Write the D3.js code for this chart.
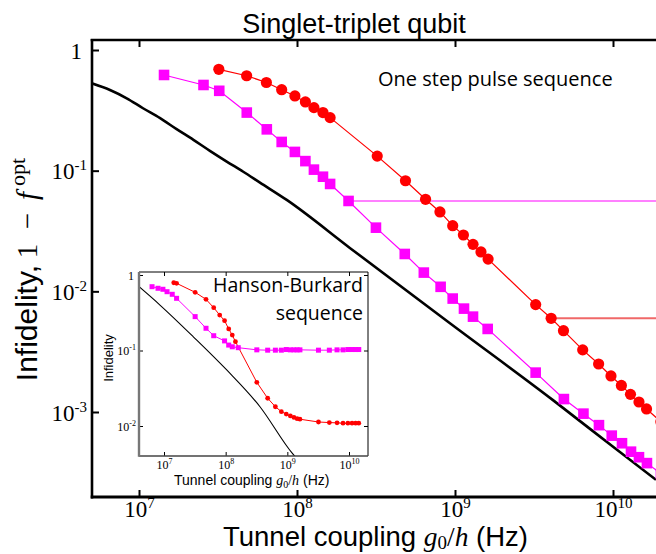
<!DOCTYPE html>
<html>
<head>
<meta charset="utf-8">
<script src="https://cdn.jsdelivr.net/npm/d3@7"></script>
<style>
body { margin: 0; background: #fff; }
svg { display: block; }
</style>
</head>
<body>
<div id="chart"></div>
<script>
// ---- main panel data ----
const xTickExp = [7, 8, 9, 10];
const yTickExp = [0, -1, -2, -3];

// bound (black curve)
const boundG = [5.02e6, 6.55e6, 8.36e6, 1.06e7, 1.36e7, 1.73e7, 2.21e7, 2.81e7, 3.59e7, 4.57e7, 5.83e7, 8.61e7, 2.16e8, 9.29e8, 4.15e9, 1.03e10, 1.87e10];
const boundV = [0.530, 0.466, 0.398, 0.329, 0.272, 0.221, 0.180, 0.146, 0.119, 0.098, 0.0796, 0.0572, 0.0229, 0.00544, 0.00126, 0.000500, 0.000274];

// red circles
const redG = [3.2e7, 4.8e7, 6.4e7, 8.0e7, 9.7e7, 1.13e8, 1.28e8, 1.46e8, 1.62e8, 3.22e8, 4.86e8, 6.51e8, 8.03e8, 9.67e8, 1.13e9, 1.30e9, 1.46e9, 1.62e9, 3.24e9, 4.06e9, 4.86e9, 6.43e9, 8.11e9, 9.71e9, 1.13e10, 1.29e10, 1.46e10, 1.63e10, 2.01e10];
const redV = [0.692, 0.612, 0.538, 0.469, 0.416, 0.371, 0.333, 0.303, 0.275, 0.132, 0.0825, 0.0579, 0.0455, 0.0350, 0.0293, 0.0245, 0.0212, 0.0185, 0.00776, 0.00598, 0.00472, 0.00327, 0.00250, 0.00199, 0.00166, 0.00140, 0.00121, 0.00106, 0.00083];

// magenta squares
const magG = [1.44e7, 2.56e7, 3.22e7, 4.81e7, 6.44e7, 8.0e7, 9.7e7, 1.13e8, 1.28e8, 1.46e8, 1.62e8, 2.12e8, 3.16e8, 4.81e8, 6.35e8, 8.11e8, 9.67e8, 1.14e9, 1.30e9, 1.61e9, 3.24e9, 4.89e9, 6.50e9, 8.15e9, 9.82e9, 1.14e10, 1.30e10, 1.46e10, 1.64e10, 2.01e10];
const magV = [0.621, 0.513, 0.459, 0.303, 0.220, 0.173, 0.143, 0.120, 0.102, 0.0891, 0.0776, 0.0561, 0.0337, 0.0204, 0.0143, 0.0109, 0.00871, 0.00719, 0.00617, 0.00488, 0.00212, 0.00128, 0.000969, 0.000778, 0.000637, 0.000551, 0.000469, 0.000422, 0.000377, 0.000307];

// flat levels (start g, level)
const floorG = [2.12e8, 4.06e9];
const floorV = [0.0561, 0.00598];

// ---- inset data ----
const insetXTickExp = [7, 8, 9, 10];
const insetYTickExp = [0, -1, -2];
const insetBoundG = [3.94e6, 8.6e6, 2.99e7, 1.04e8, 3.6e8, 1.19e9, 1.35e9];
const insetBoundV = [0.70, 0.40, 0.152, 0.0552, 0.018, 0.0044, 0.0039];
const insetRedG = [1.44e7, 1.6e7, 3.2e7, 4.8e7, 6.4e7, 8e7, 9.6e7, 1.12e8, 1.28e8, 1.44e8, 3.2e8, 4.8e8, 6.4e8, 8e8, 9.6e8, 1.12e9, 1.28e9, 1.44e9, 1.6e9, 3.2e9, 4.8e9, 6.4e9, 8e9, 9.6e9, 1.12e10, 1.28e10, 1.44e10];
const insetRedV = [0.79, 0.776, 0.59, 0.476, 0.369, 0.295, 0.248, 0.193, 0.160, 0.131, 0.0379, 0.0233, 0.0180, 0.0155, 0.0144, 0.0136, 0.0130, 0.0125, 0.0123, 0.0113, 0.0111, 0.0110, 0.0109, 0.0109, 0.0109, 0.0109, 0.0109];
const insetMagG = [6.4e6, 8e6, 9.6e6, 1.12e7, 1.36e7, 1.6e7, 3.2e7, 4.8e7, 6.4e7, 9.6e7, 1.12e8, 1.28e8, 1.6e8, 3.2e8, 4.8e8, 6.4e8, 8e8, 9.6e8, 1.12e9, 1.28e9, 1.44e9, 1.6e9, 3.2e9, 4.8e9, 6.4e9, 8e9, 9.6e9, 1.12e10, 1.28e10, 1.44e10];
const insetMagV = [0.70, 0.667, 0.647, 0.601, 0.555, 0.491, 0.281, 0.197, 0.157, 0.134, 0.118, 0.112, 0.109, 0.102, 0.101, 0.101, 0.101, 0.103, 0.102, 0.102, 0.102, 0.102, 0.101, 0.101, 0.102, 0.102, 0.103, 0.103, 0.103, 0.103];

const W = 656, H = 554;
const sans = "'Liberation Sans', Arial, sans-serif";
const serif = "'Liberation Serif', 'Times New Roman', serif";
const gill = "'Open Sans', Lato, sans-serif";

const svg = d3.select("#chart").append("svg")
    .attr("width", W).attr("height", H)
    .style("background", "#fff");

const zip = (gs, vs) => gs.map((g, i) => [g, vs[i]]);

// main frame
const L = 92, T = 40, B = 497, R = W;
const x = d3.scaleLog().domain([1e7, 1e10]).range([139, 613]);
const y = d3.scaleLog().domain([1, 1e-3]).range([50, 412]);

svg.append("clipPath").attr("id", "mainClip")
    .append("rect").attr("x", L).attr("y", T).attr("width", R - L).attr("height", B - T);

const plot = svg.append("g").attr("clip-path", "url(#mainClip)");

const line = d3.line().x(d => x(d[0])).y(d => y(d[1]));

plot.append("path")
    .datum(zip(boundG, boundV))
    .attr("d", line.curve(d3.curveMonotoneX))
    .attr("fill", "none").attr("stroke", "#000").attr("stroke-width", 2.6);
line.curve(d3.curveLinear);

// flat levels
const floorColors = ["#ff80ff", "#f06868"];
floorG.forEach((g, i) => {
    plot.append("line")
        .attr("x1", x(g)).attr("x2", R + 10)
        .attr("y1", y(floorV[i])).attr("y2", y(floorV[i]))
        .attr("stroke", floorColors[i]).attr("stroke-width", 2);
});

plot.append("path").datum(zip(magG, magV)).attr("d", line)
    .attr("fill", "none").attr("stroke", "#ff00ff").attr("stroke-width", 1.2);
plot.append("path").datum(zip(redG, redV)).attr("d", line)
    .attr("fill", "none").attr("stroke", "#ff0000").attr("stroke-width", 1.2);

const sq = 10.6;
plot.selectAll(".msq").data(zip(magG, magV)).enter().append("rect")
    .attr("x", d => x(d[0]) - sq / 2).attr("y", d => y(d[1]) - sq / 2)
    .attr("width", sq).attr("height", sq).attr("fill", "#ff00ff");
plot.selectAll(".rci").data(zip(redG, redV)).enter().append("circle")
    .attr("cx", d => x(d[0])).attr("cy", d => y(d[1])).attr("r", 5.6)
    .attr("fill", "#ff0000");

// axes ticks
const xTicks = xTickExp.map(e => Math.pow(10, e));
const yTicks = yTickExp.map(e => Math.pow(10, e));

const gxb = svg.append("g").attr("transform", `translate(0,${B})`)
    .call(d3.axisBottom(x).tickValues(xTicks).tickSize(-7).tickFormat(""));
const gxt = svg.append("g").attr("transform", `translate(0,${T})`)
    .call(d3.axisTop(x).tickValues(xTicks).tickSize(-7).tickFormat(""));
const gyl = svg.append("g").attr("transform", `translate(${L},0)`)
    .call(d3.axisLeft(y).tickValues(yTicks).tickSize(-7).tickFormat(""));
[gxb, gxt, gyl].forEach(g => {
    g.select(".domain").remove();
    g.selectAll(".tick line").attr("stroke", "#000").attr("stroke-width", 2);
    g.selectAll(".tick text").remove();
});

function powLabel(sel, e, size, supSize, supDy) {
    if (e === 0) { sel.append("tspan").text("1"); return; }
    sel.append("tspan").text("10");
    sel.append("tspan").attr("font-size", supSize).attr("dy", supDy).text(String(e));
}

gxb.selectAll(".tick").each(function (d) {
    const t = d3.select(this).append("text")
        .attr("y", 20).attr("text-anchor", "middle")
        .attr("font-family", serif).attr("font-size", 23).attr("fill", "#000");
    powLabel(t, Math.round(Math.log10(d)), 23, 15, -9);
});
gyl.selectAll(".tick").each(function (d) {
    const e = Math.round(Math.log10(d));
    const t = d3.select(this).append("text")
        .attr("x", e === 0 ? -10 : -5).attr("y", 8).attr("text-anchor", "end")
        .attr("font-family", serif).attr("font-size", 23).attr("fill", "#000");
    powLabel(t, e, 23, 15, -9);
});

// spines
svg.append("line").attr("x1", L).attr("x2", L).attr("y1", T - 1).attr("y2", B + 1.5)
    .attr("stroke", "#000").attr("stroke-width", 2.6);
svg.append("line").attr("x1", L - 1.3).attr("x2", R).attr("y1", T).attr("y2", T)
    .attr("stroke", "#000").attr("stroke-width", 2.4);
svg.append("line").attr("x1", L - 1.3).attr("x2", R).attr("y1", B).attr("y2", B)
    .attr("stroke", "#000").attr("stroke-width", 3);

// title and annotation
svg.append("text").attr("x", 354).attr("y", 33).attr("text-anchor", "middle")
    .attr("font-family", sans).attr("font-size", 27).text("Singlet-triplet qubit");
svg.append("text").attr("x", 378).attr("y", 86)
    .attr("font-family", gill).attr("font-size", 20).text("One step pulse sequence");

// x label
const xl = svg.append("text").attr("x", 223).attr("y", 546)
    .attr("font-family", sans).attr("font-size", 27.5);
xl.append("tspan").text("Tunnel coupling ");
xl.append("tspan").attr("font-family", serif).attr("font-style", "italic").text("g");
xl.append("tspan").attr("font-family", serif).attr("font-size", 19).attr("dy", 3).text("0");
xl.append("tspan").attr("font-family", serif).attr("dy", -3).text("/");
xl.append("tspan").attr("font-family", serif).attr("font-style", "italic").text("h");
xl.append("tspan").text(" (Hz)");

// y label, pieces laid along the rotated baseline (u = -page y)
const yl = svg.append("g").attr("transform", "translate(37,0) rotate(-90)");
yl.append("text").attr("x", -265).attr("text-anchor", "end")
    .attr("font-family", sans).attr("font-size", 30).text("Infidelity,");
yl.append("text").attr("x", -251).attr("text-anchor", "middle")
    .attr("font-family", serif).attr("font-size", 29).text("1");
yl.append("text").attr("x", -221).attr("text-anchor", "middle")
    .attr("font-family", serif).attr("font-size", 29).text("\u2212");
yl.append("text").attr("x", -196).attr("text-anchor", "middle")
    .attr("font-family", serif).attr("font-style", "italic").attr("font-size", 29).text("f");
yl.append("text").attr("x", -186).attr("y", -12).attr("text-anchor", "start")
    .attr("font-family", serif).attr("font-size", 22).text("opt");

// ---- inset ----
const iL = 139, iT = 272, iR = 368, iB = 456;
const ix = d3.scaleLog().domain([1e7, 1e10]).range([164, 349]);
const iy = d3.scaleLog().domain([1, 1e-2]).range([275, 426]);

svg.append("rect").attr("x", iL).attr("y", iT).attr("width", iR - iL).attr("height", iB - iT)
    .attr("fill", "#fff");
svg.append("clipPath").attr("id", "insetClip")
    .append("rect").attr("x", iL).attr("y", iT).attr("width", iR - iL).attr("height", iB - iT);
const ip = svg.append("g").attr("clip-path", "url(#insetClip)");
const iline = d3.line().x(d => ix(d[0])).y(d => iy(d[1]));

ip.append("path").datum(zip(insetBoundG, insetBoundV))
    .attr("d", iline.curve(d3.curveMonotoneX))
    .attr("fill", "none").attr("stroke", "#000").attr("stroke-width", 1.1);
iline.curve(d3.curveLinear);
ip.append("path").datum(zip(insetMagG, insetMagV)).attr("d", iline)
    .attr("fill", "none").attr("stroke", "#ff00ff").attr("stroke-width", 1);
ip.append("path").datum(zip(insetRedG, insetRedV)).attr("d", iline)
    .attr("fill", "none").attr("stroke", "#ff0000").attr("stroke-width", 1);
const isq = 5;
ip.selectAll(".imsq").data(zip(insetMagG, insetMagV)).enter().append("rect")
    .attr("x", d => ix(d[0]) - isq / 2).attr("y", d => iy(d[1]) - isq / 2)
    .attr("width", isq).attr("height", isq).attr("fill", "#ff00ff");
ip.selectAll(".irci").data(zip(insetRedG, insetRedV)).enter().append("circle")
    .attr("cx", d => ix(d[0])).attr("cy", d => iy(d[1])).attr("r", 2.4)
    .attr("fill", "#ff0000");

const ixTicks = insetXTickExp.map(e => Math.pow(10, e));
const iyTicks = insetYTickExp.map(e => Math.pow(10, e));
const ixb = svg.append("g").attr("transform", `translate(0,${iB})`)
    .call(d3.axisBottom(ix).tickValues(ixTicks).tickSize(-4).tickFormat(""));
const ixt = svg.append("g").attr("transform", `translate(0,${iT})`)
    .call(d3.axisTop(ix).tickValues(ixTicks).tickSize(-4).tickFormat(""));
const iyl = svg.append("g").attr("transform", `translate(${iL},0)`)
    .call(d3.axisLeft(iy).tickValues(iyTicks).tickSize(-4).tickFormat(""));
const iyr = svg.append("g").attr("transform", `translate(${iR},0)`)
    .call(d3.axisRight(iy).tickValues(iyTicks).tickSize(-4).tickFormat(""));
[ixb, ixt, iyl, iyr].forEach(g => {
    g.select(".domain").remove();
    g.selectAll(".tick line").attr("stroke", "#000").attr("stroke-width", 1);
    g.selectAll(".tick text").remove();
});
ixb.selectAll(".tick").each(function (d) {
    const t = d3.select(this).append("text")
        .attr("y", 13).attr("text-anchor", "middle")
        .attr("font-family", serif).attr("font-size", 12).attr("fill", "#000");
    powLabel(t, Math.round(Math.log10(d)), 12, 8, -5);
});
iyl.selectAll(".tick").each(function (d) {
    const e = Math.round(Math.log10(d));
    const t = d3.select(this).append("text")
        .attr("x", e === 0 ? -5 : -3).attr("y", 4).attr("text-anchor", "end")
        .attr("font-family", serif).attr("font-size", 12).attr("fill", "#000");
    powLabel(t, e, 12, 8, -5);
});

// inset spines
svg.append("line").attr("x1", iL).attr("x2", iR).attr("y1", iT).attr("y2", iT)
    .attr("stroke", "#000").attr("stroke-width", 1);
svg.append("line").attr("x1", iR).attr("x2", iR).attr("y1", iT).attr("y2", iB)
    .attr("stroke", "#000").attr("stroke-width", 1);
svg.append("line").attr("x1", iL).attr("x2", iR).attr("y1", iB).attr("y2", iB)
    .attr("stroke", "#444").attr("stroke-width", 1.6);
svg.append("line").attr("x1", iL).attr("x2", iL).attr("y1", iT).attr("y2", iB + 0.8)
    .attr("stroke", "#777").attr("stroke-width", 2.4);

// inset texts
svg.append("text").attr("x", 363).attr("y", 292).attr("text-anchor", "end")
    .attr("font-family", gill).attr("font-size", 19.5).text("Hanson-Burkard");
svg.append("text").attr("x", 363).attr("y", 320).attr("text-anchor", "end")
    .attr("font-family", gill).attr("font-size", 19.5).text("sequence");

const ixl = svg.append("text").attr("x", 174).attr("y", 485)
    .attr("font-family", sans).attr("font-size", 14);
ixl.append("tspan").text("Tunnel coupling ");
ixl.append("tspan").attr("font-family", serif).attr("font-style", "italic").text("g");
ixl.append("tspan").attr("font-family", serif).attr("font-size", 10).attr("dy", 3).text("0");
ixl.append("tspan").attr("font-family", serif).attr("dy", -3).text("/");
ixl.append("tspan").attr("font-family", serif).attr("font-style", "italic").text("h");
ixl.append("tspan").text(" (Hz)");

svg.append("text").attr("transform", "translate(113,358) rotate(-90)")
    .attr("text-anchor", "middle").attr("font-family", sans).attr("font-size", 13)
    .text("Infidelity");
</script>
</body>
</html>
